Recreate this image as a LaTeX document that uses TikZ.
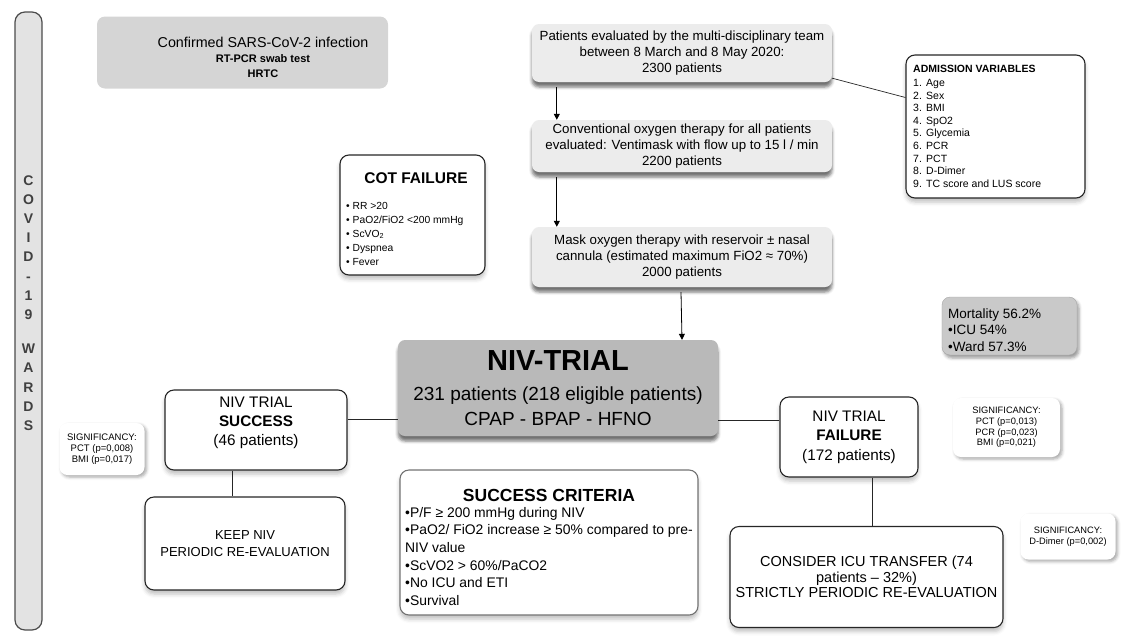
\documentclass[tikz,border=0pt]{standalone}
\usepackage{fontspec}
\setmainfont{Liberation Sans}
\usetikzlibrary{arrows.meta,shadows.blur}

\tikzset{
  flowbox/.style={rounded corners=7pt, fill=gray!15, align=center, inner sep=0pt,
    font=\fontsize{13.3}{16}\selectfont,
    blur shadow={shadow xshift=0pt, shadow yshift=-5pt, shadow blur radius=3pt, shadow opacity=55}},
  penbox/.style={draw=black!85, line width=1.1pt, rounded corners=9pt, fill=white, align=center, inner sep=0pt,
    blur shadow={shadow xshift=0pt, shadow yshift=-4pt, shadow blur radius=4pt, shadow opacity=25}},
  sigbox/.style={rounded corners=8pt, fill=white, align=center, inner sep=0pt,
    font=\fontsize{9.3}{10.7}\selectfont,
    blur shadow={shadow xshift=2pt, shadow yshift=-2pt, shadow blur radius=3pt, shadow opacity=35}},
  flowarrow/.style={-{Triangle[length=6pt,width=6pt]}, line width=0.8pt},
  link/.style={line width=0.7pt, draw=black!85},
}

\begin{document}
\begin{tikzpicture}[x=1pt, y=-1pt]
\useasboundingbox (0,0) rectangle (1121,635);

\node[rounded corners=10pt, draw=black!70, line width=1.2pt, fill=gray!22, minimum width=27pt, minimum height=618pt] (bar) at (28.5,321) {};
\node[font=\fontsize{14}{19.2}\selectfont\bfseries, text=black!75, align=center] (wards) at (28.5,303) {C\\O\\V\\I\\D\\-\\1\\9\\[15pt]W\\A\\R\\D\\S};

\node[rounded corners=8pt, fill=gray!33, minimum width=291pt, minimum height=72pt] (confirmed) at (242.5,52.5) {};
\node[align=center, font=\fontsize{11}{15}\selectfont\bfseries] (confirmedtext) at (263,57) {{\fontsize{14.3}{15}\selectfont\mdseries Confirmed SARS-CoV-2 infection}\\RT-PCR swab test\\HRTC};

\node[flowbox, minimum width=300pt, minimum height=58pt] (eval) at (682,53) {Patients evaluated by the multi-disciplinary team\\between 8 March and 8 May 2020:\\2300 patients};
\node[flowbox, minimum width=300pt, minimum height=52pt] (cot) at (682,146) {Conventional oxygen therapy for all patients\\evaluated: Ventimask with flow up to 15 l / min\\2200 patients};
\node[flowbox, minimum width=300pt, minimum height=60pt] (mask) at (682,257) {Mask oxygen therapy with reservoir ± nasal\\cannula (estimated maximum FiO2 ≈ 70\%)\\2000 patients};
\node[flowbox, fill=gray!55, minimum width=320pt, minimum height=96pt, font=\fontsize{19}{25}\selectfont] (niv) at (558,388) {{\fontsize{29}{30}\selectfont\bfseries NIV-TRIAL}\\[5pt]231 patients (218 eligible patients)\\CPAP - BPAP - HFNO};

\node[penbox, minimum width=179pt, minimum height=143pt] (admission) at (995.5,126.5) {};
\node[anchor=north west, align=left, inner sep=0pt, font=\fontsize{10.5}{12.6}\selectfont] (admtext) at (913,65) {\textbf{ADMISSION VARIABLES}\\[1.4pt]\makebox[13pt][l]{1.}Age\\\makebox[13pt][l]{2.}Sex\\\makebox[13pt][l]{3.}BMI\\\makebox[13pt][l]{4.}SpO2\\\makebox[13pt][l]{5.}Glycemia\\\makebox[13pt][l]{6.}PCR\\\makebox[13pt][l]{7.}PCT\\\makebox[13pt][l]{8.}D-Dimer\\\makebox[13pt][l]{9.}TC score and LUS score};

\node[penbox, minimum width=145pt, minimum height=120pt] (cotfail) at (412.5,215) {};
\node[font=\fontsize{15.5}{17}\selectfont\bfseries] (cottitle) at (416,178) {COT FAILURE};
\node[anchor=north west, align=left, inner sep=0pt, font=\fontsize{10.3}{14}\selectfont] (cottext) at (346,202) {• RR >20\\• PaO2/FiO2 <200 mmHg\\• ScVO\textsubscript{2}\\• Dyspnea\\• Fever};

\node[rounded corners=8pt, fill=gray!42, draw=gray!70, minimum width=135pt, minimum height=58pt,
  blur shadow={shadow xshift=2pt, shadow yshift=-3pt, shadow blur radius=3pt, shadow opacity=40}] (mortality) at (1009.5,326) {};
\node[anchor=west, align=left, inner sep=0pt, font=\fontsize{13.5}{16.5}\selectfont] (morttext) at (948,330) {Mortality 56.2\%\\•ICU 54\%\\•Ward 57.3\%};

\node[penbox, minimum width=182pt, minimum height=80pt] (success) at (256,430) {};
\node[align=center, font=\fontsize{15.3}{19}\selectfont] (successtext) at (256,423) {NIV TRIAL\\\textbf{SUCCESS}\\(46 patients)};
\node[penbox, minimum width=138pt, minimum height=80pt, font=\fontsize{15.3}{19.5}\selectfont] (failure) at (849,437) {NIV TRIAL\\\textbf{FAILURE}\\(172 patients)};

\node[penbox, minimum width=200pt, minimum height=93pt, font=\fontsize{13}{17}\selectfont] (keep) at (245,543.5) {KEEP NIV\\PERIODIC RE-EVALUATION};
\node[penbox, draw=black!55, minimum width=298pt, minimum height=145pt] (criteria) at (549,542.5) {};
\node[font=\fontsize{17.5}{19}\selectfont\bfseries] (crittitle) at (549,495) {SUCCESS CRITERIA};
\node[anchor=north west, align=left, inner sep=0pt, font=\fontsize{13.9}{17.6}\selectfont] (crittext) at (405,507) {•P/F ≥ 200 mmHg during NIV\\•PaO2/ FiO2 increase ≥ 50\% compared to pre-\\NIV value\\•ScVO2 > 60\%/PaCO2\\•No ICU and ETI\\•Survival};
\node[penbox, minimum width=273pt, minimum height=101pt, font=\fontsize{14.5}{15.5}\selectfont] (consider) at (866.5,577) {CONSIDER ICU TRANSFER (74\\patients – 32\%)\\STRICTLY PERIODIC RE-EVALUATION};

\node[sigbox, minimum width=85pt, minimum height=52pt, font=\fontsize{9.5}{11}\selectfont] (sigleft) at (102,449) {SIGNIFICANCY:\\PCT (p=0,008)\\BMI (p=0,017)};
\node[sigbox, minimum width=107pt, minimum height=59pt] (sigfail) at (1006.5,427.5) {SIGNIFICANCY:\\PCT (p=0,013)\\PCR (p=0,023)\\BMI (p=0,021)};
\node[sigbox, minimum width=95pt, minimum height=46pt] (sigicu) at (1068,536.5) {SIGNIFICANCY:\\D-Dimer (p=0,002)};

\draw[flowarrow] ([xshift=25pt,yshift=-5pt]eval.south west) -- ([xshift=25pt]cot.north west);
\draw[flowarrow] ([xshift=25pt,yshift=-5pt]cot.south west) -- ([xshift=25pt]mask.north west);
\draw[flowarrow] ([xshift=-1pt,yshift=-5pt]mask.south) -- (mask.south |- niv.north);
\draw[link] ([yshift=4pt]eval.south east) -- ([yshift=29pt]admission.west);
\draw[link] ([yshift=11pt]success.east) -- ([yshift=11pt]success.east -| niv.west);
\draw[link] ([yshift=-32pt]niv.east) -- ([yshift=-32pt]niv.east -| failure.west);
\draw[link] ([xshift=-24pt]success.south) -- ([xshift=-24pt]success.south |- keep.north);
\draw[link] ([xshift=23pt]failure.south) -- ([xshift=23pt]failure.south |- consider.north);
\end{tikzpicture}
\end{document}
